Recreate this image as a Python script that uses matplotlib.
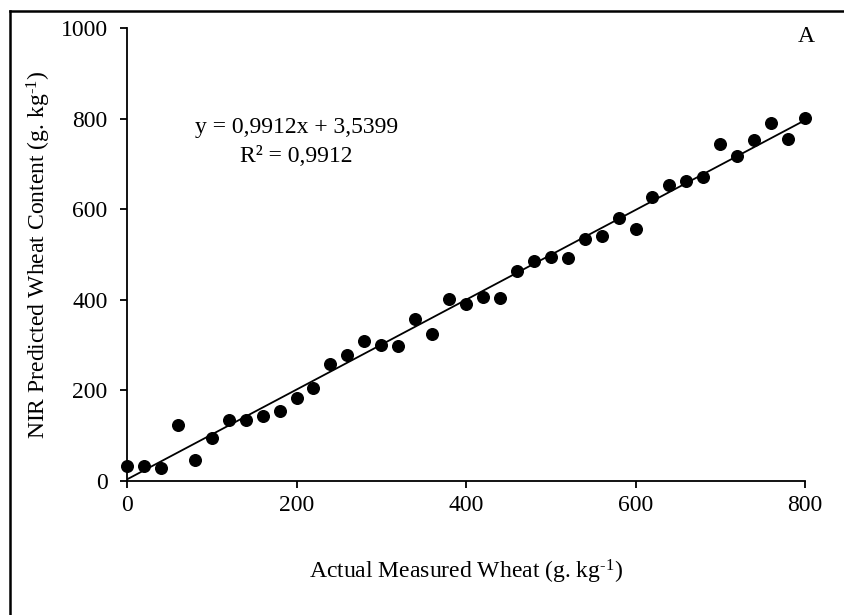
import numpy as np
import matplotlib
matplotlib.use('Agg')
import matplotlib.pyplot as plt
from matplotlib.lines import Line2D

plt.rcParams['font.family'] = ['Liberation Serif', 'DejaVu Serif']
plt.rcParams['mathtext.fontset'] = 'custom'
plt.rcParams['mathtext.rm'] = 'Liberation Serif'
plt.rcParams['mathtext.it'] = 'Liberation Serif:italic'

# actual vs NIR predicted wheat content (g/kg)
actual = [0, 20, 40, 60, 80, 100, 120, 140, 160, 180, 200, 220, 240, 260,
          280, 300, 320, 340, 360, 380, 400, 420, 440, 460, 480, 500, 520,
          540, 560, 580, 600, 620, 640, 660, 680, 700, 720, 740, 760, 780, 800]
predicted = [34, 32, 28, 123, 47, 94, 134, 134, 144, 155, 183, 205, 259, 279,
             309, 301, 297, 358, 324, 401, 391, 407, 405, 464, 486, 495, 492,
             534, 540, 580, 556, 626, 653, 662, 672, 743, 717, 753, 790, 755, 802]
slope = 0.9912
intercept = 3.5399
x_ticks = [0, 200, 400, 600, 800]
y_ticks = [0, 200, 400, 600, 800, 1000]

fs = 17

fig = plt.figure(figsize=(8.45, 6.15), dpi=100)
ax = fig.add_axes([0.1503, 0.2179, 0.8024, 0.7366])

ax.scatter(actual, predicted, s=70, color='black', zorder=3, clip_on=False)
xf = np.array([0, 800])
ax.plot(xf, slope * xf + intercept, color='black', lw=1.3, zorder=2)

ax.set_xlim(0, 800)
ax.set_ylim(0, 1000)
ax.set_xticks(x_ticks)
ax.set_yticks(y_ticks)
ax.spines['top'].set_visible(False)
ax.spines['right'].set_visible(False)
ax.spines['left'].set_linewidth(1.3)
ax.spines['bottom'].set_linewidth(1.3)
ax.tick_params(direction='out', length=5, width=1.3, labelsize=fs)
ax.tick_params(axis='x', pad=5)
ax.tick_params(axis='y', pad=9)

ax.set_xlabel('Actual Measured Wheat (g. kg$^{\u2010 1}$)', fontsize=fs, labelpad=30)
ax.set_ylabel('NIR Predicted Wheat Content (g. kg$^{\u2010 1}$)', fontsize=fs, labelpad=5)

ax.text(200, 780, 'y = 0,9912x + 3,5399', ha='center', va='center', fontsize=fs)
ax.text(200, 717, 'R\u00b2 = 0,9912', ha='center', va='center', fontsize=fs)
ax.text(802, 982, 'A', ha='center', va='center', fontsize=fs)

# frame lines around the figure (only left and top visible)
fig.add_artist(Line2D([10 / 845, 10 / 845], [0, 1 - 11 / 615], color='black', lw=1.8,
                      transform=fig.transFigure))
fig.add_artist(Line2D([10 / 845, 1], [1 - 11 / 615, 1 - 11 / 615], color='black', lw=1.8,
                      transform=fig.transFigure))

fig.savefig('out.png', dpi=100)
